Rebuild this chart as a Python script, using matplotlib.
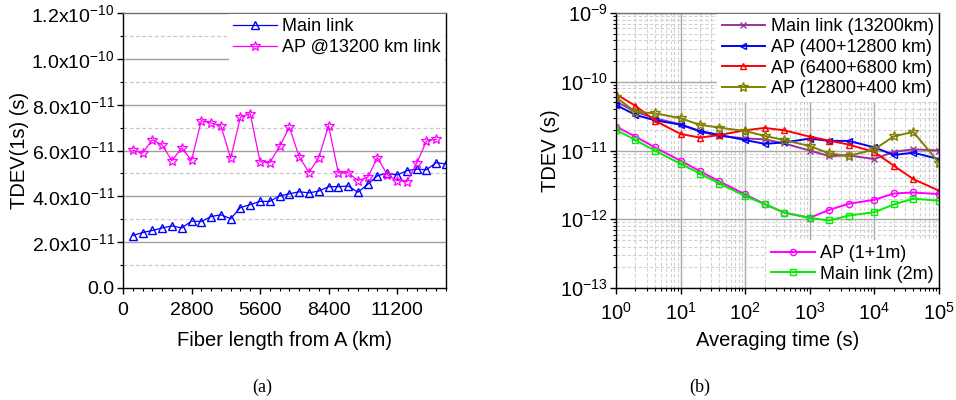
import matplotlib
matplotlib.use("Agg")
import matplotlib.pyplot as plt
import numpy as np
from matplotlib.ticker import FixedLocator, MultipleLocator, FuncFormatter, LogLocator, NullFormatter

plt.rcParams['font.family'] = ['Liberation Sans', 'DejaVu Sans']
plt.rcParams['mathtext.fontset'] = 'custom'
plt.rcParams['mathtext.rm'] = 'Liberation Sans'
plt.rcParams['mathtext.it'] = 'Liberation Sans:italic'
plt.rcParams['mathtext.bf'] = 'Liberation Sans:bold'

# ---------------- Panel (a) data ----------------
fiber_main_km = [400 * (i + 1) for i in range(33)]
tdev_main = [22.9, 24.2, 25.1, 26.2, 27.1, 26.2, 29.2, 29.0, 31.2, 31.9, 30.3,
             35.1, 36.4, 37.8, 37.8, 40.2, 41.1, 42.0, 41.5, 42.3, 44.2, 44.2,
             44.5, 41.8, 45.2, 49.0, 50.1, 49.3, 51.2, 51.9, 51.6, 54.7, 54.1]  # x1e-12 s
fiber_ap_km = [400 * (i + 1) for i in range(32)]
tdev_ap = [60.1, 58.9, 64.7, 62.4, 55.5, 61.2, 55.7, 73.0, 72.0, 70.8, 56.6,
           74.6, 76.1, 55.1, 54.7, 61.8, 70.1, 57.3, 50.4, 56.9, 70.8, 50.3,
           50.3, 46.9, 48.3, 56.9, 49.4, 46.9, 46.4, 54.4, 64.1, 64.9]  # x1e-12 s
xticks_a = [0, 2800, 5600, 8400, 11200]
yticks_a = [0, 2e-11, 4e-11, 6e-11, 8e-11, 1e-10, 1.2e-10]

# ---------------- Panel (b) data ----------------
tau = [1, 2, 4, 10, 20, 40, 100, 200, 400, 1000, 2000, 4000, 1e4, 2e4, 4e4, 1e5]
main_13200 = [5.15e-11, 3.68e-11, 2.94e-11, 2.4e-11, 1.88e-11, 1.63e-11, 1.50e-11, 1.45e-11,
              1.27e-11, 9.96e-12, 8.3e-12, 8.5e-12, 7.5e-12, 9.6e-12, 1.04e-11, 1.0e-11]
ap_400_12800 = [4.6e-11, 3.3e-11, 2.75e-11, 2.38e-11, 1.92e-11, 1.68e-11, 1.42e-11, 1.25e-11,
                1.31e-11, 1.49e-11, 1.38e-11, 1.38e-11, 1.11e-11, 8.6e-12, 9.3e-12, 7.5e-12]
ap_6400_6800 = [6.6e-11, 4.46e-11, 2.72e-11, 1.74e-11, 1.54e-11, 1.68e-11, 1.97e-11, 2.13e-11,
                1.97e-11, 1.59e-11, 1.39e-11, 1.22e-11, 9.5e-12, 6.0e-12, 3.84e-12, 2.6e-12]
ap_12800_400 = [5.96e-11, 3.65e-11, 3.48e-11, 2.94e-11, 2.36e-11, 2.15e-11, 1.92e-11, 1.63e-11,
                1.42e-11, 1.16e-11, 9.1e-12, 8.3e-12, 1.04e-11, 1.61e-11, 1.86e-11, 6.65e-12]
ap_1_1m = [2.23e-11, 1.59e-11, 1.11e-11, 7.1e-12, 5.0e-12, 3.55e-12, 2.3e-12, 1.66e-12,
           1.25e-12, 1.05e-12, 1.37e-12, 1.68e-12, 1.92e-12, 2.37e-12, 2.45e-12, 2.32e-12]
main_2m = [2.0e-11, 1.42e-11, 9.96e-12, 6.4e-12, 4.6e-12, 3.3e-12, 2.17e-12, 1.66e-12,
           1.25e-12, 1.04e-12, 9.6e-13, 1.13e-12, 1.27e-12, 1.64e-12, 1.99e-12, 1.86e-12]

fig = plt.figure(figsize=(9.56, 4.0), dpi=100)
axA = fig.add_axes([123 / 956, 1 - 288 / 400, 323 / 956, 275 / 400])
axB = fig.add_axes([616 / 956, 1 - 288 / 400, 323 / 956, 275 / 400])

TICK_FS = 14
LAB_FS = 14.5
LEG_FS = 13

leg_kw = dict(frameon=True, fancybox=False, edgecolor='none', facecolor='white',
              framealpha=1, borderaxespad=0.05, handlelength=2.4, handletextpad=0.3,
              labelspacing=0.2, borderpad=0.25, fontsize=LEG_FS)

# ---------- panel (a) ----------
for y in [2e-11, 4e-11, 6e-11, 8e-11, 1e-10]:
    axA.axhline(y, color='#a0a0a0', lw=1.0, zorder=0)
for y in [1e-11, 3e-11, 5e-11, 7e-11, 9e-11, 1.1e-10]:
    axA.axhline(y, color='#c8c8c8', lw=0.9, ls=(0, (3, 2)), zorder=0)

axA.plot(fiber_main_km, np.array(tdev_main) * 1e-12, color='#0000ff', lw=0.9,
         marker='^', ms=5.5, mfc='none', mec='#0000ff', mew=1.0, label='Main link')
axA.plot(fiber_ap_km, np.array(tdev_ap) * 1e-12, color='#ff00ff', lw=0.9,
         marker='*', ms=7, mfc='none', mec='#ff00ff', mew=0.9, label='AP @13200 km link')
axA.set_xlim(0, 13200)
axA.set_ylim(0, 1.2e-10)
axA.xaxis.set_major_locator(FixedLocator(xticks_a))
axA.xaxis.set_minor_locator(MultipleLocator(400))
axA.yaxis.set_major_locator(FixedLocator(yticks_a))
axA.yaxis.set_minor_locator(MultipleLocator(1e-11))


def fmtA(v, pos):
    if abs(v) < 1e-20:
        return '0.0'
    e = int(np.floor(np.log10(abs(v)) + 1e-9))
    m = v / 10 ** e
    return r'%.1fx10$^{\mathregular{%d}}$' % (m, e)


axA.yaxis.set_major_formatter(FuncFormatter(fmtA))
axA.tick_params(axis='y', which='major', labelsize=TICK_FS, direction='out', length=4,
                width=1, pad=2)
axA.tick_params(axis='x', which='major', labelsize=TICK_FS, direction='out', length=4,
                width=1, pad=6)
axA.tick_params(axis='both', which='minor', direction='out', length=2, width=0.8)
axA.set_xlabel('Fiber length from A (km)', fontsize=LAB_FS, labelpad=9)
axA.set_ylabel('TDEV(1s) (s)', fontsize=LAB_FS, labelpad=2)
legA = axA.legend(loc='upper right', **leg_kw)

# ---------- panel (b) ----------
series = [
    (main_13200, '#993399', 'x', 'Main link (13200km)'),
    (ap_400_12800, '#0000ff', '<', 'AP (400+12800 km)'),
    (ap_6400_6800, '#ff0000', '^', 'AP (6400+6800 km)'),
    (ap_12800_400, '#808000', '*', 'AP (12800+400 km)'),
]
lines_top = []
for data, col, mk, lab in series:
    ms = 7 if mk == '*' else 5
    ln, = axB.plot(tau, data, color=col, lw=1.4, marker=mk, ms=ms, mfc='none', mec=col,
                   mew=1.0, label=lab)
    lines_top.append(ln)
lines_bot = []
for data, col, mk, lab in [(ap_1_1m, '#ff00ff', 'o', 'AP (1+1m)'),
                           (main_2m, '#00ee00', 's', 'Main link (2m)')]:
    ln, = axB.plot(tau, data, color=col, lw=1.4, marker=mk, ms=4.5, mfc='none', mec=col,
                   mew=1.0, label=lab)
    lines_bot.append(ln)

axB.set_xscale('log')
axB.set_yscale('log')
axB.set_xlim(1, 1e5)
axB.set_ylim(1e-13, 1e-9)
axB.xaxis.set_major_locator(LogLocator(base=10, numticks=10))
axB.xaxis.set_minor_locator(LogLocator(base=10, subs=np.arange(2, 10), numticks=20))
axB.yaxis.set_major_locator(LogLocator(base=10, numticks=10))
axB.yaxis.set_minor_locator(LogLocator(base=10, subs=np.arange(2, 10), numticks=20))
axB.xaxis.set_minor_formatter(NullFormatter())
axB.yaxis.set_minor_formatter(NullFormatter())


def fmtB(v, pos):
    e = int(round(np.log10(v)))
    return r'10$^{\mathregular{%d}}$' % e


axB.xaxis.set_major_formatter(FuncFormatter(fmtB))
axB.yaxis.set_major_formatter(FuncFormatter(fmtB))
axB.grid(True, which='major', color='#a8a8a8', lw=1.0, zorder=0)
axB.grid(True, which='minor', color='#d0d0d0', lw=0.8, ls=(0, (3, 2)), zorder=0)
axB.set_axisbelow(True)
axB.tick_params(axis='y', which='major', labelsize=TICK_FS + 0.5, direction='out',
                length=4, width=1, pad=2)
axB.tick_params(axis='x', which='major', labelsize=TICK_FS + 0.5, direction='out',
                length=4, width=1, pad=6)
axB.tick_params(axis='both', which='minor', direction='out', length=2, width=0.8)
axB.set_xlabel('Averaging time (s)', fontsize=LAB_FS, labelpad=5)
axB.set_ylabel('TDEV (s)', fontsize=LAB_FS, labelpad=0)

leg1 = axB.legend(handles=lines_top, loc='upper right', **leg_kw)
axB.add_artist(leg1)
leg2 = axB.legend(handles=lines_bot, loc='lower right', **leg_kw)

for ax in (axA, axB):
    for s in ax.spines.values():
        s.set_linewidth(1.0)
    ax.spines['top'].set_color('#707070')

fig.text(262 / 956, 1 - 387 / 400, '(a)', ha='center', va='center', fontsize=13,
         family='Liberation Serif')
fig.text(700 / 956, 1 - 387 / 400, '(b)', ha='center', va='center', fontsize=13,
         family='Liberation Serif')

fig.savefig('out.png', dpi=100)
